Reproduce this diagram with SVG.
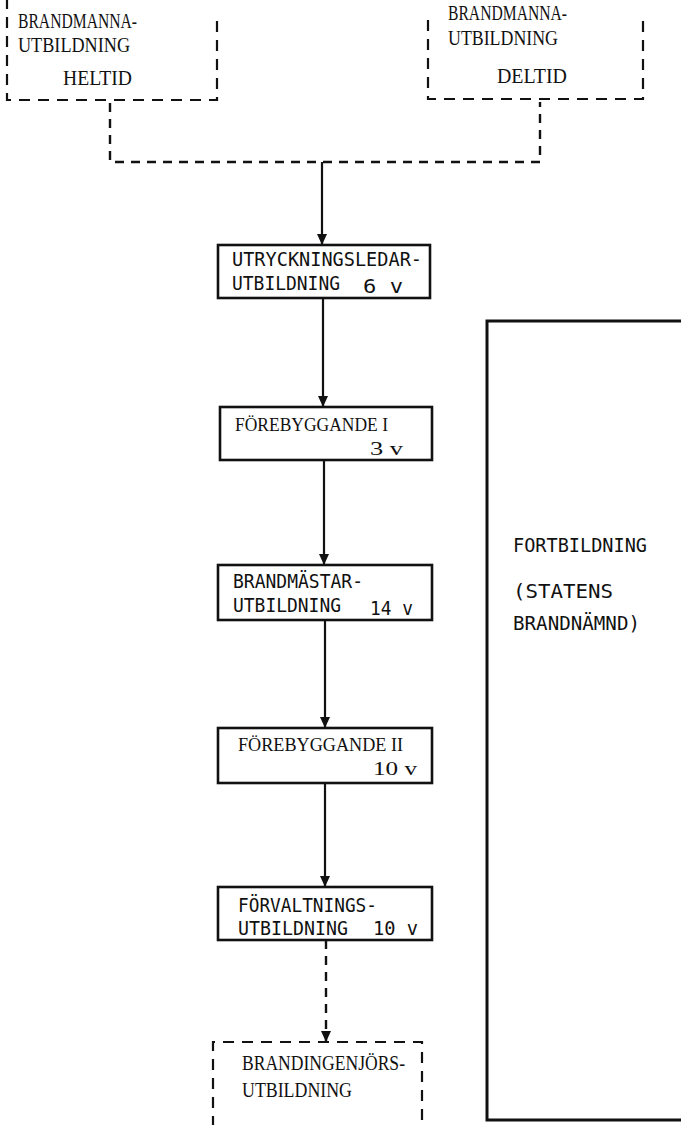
<svg xmlns="http://www.w3.org/2000/svg" width="681" height="1125" viewBox="0 0 681 1125">
<style>
.box{fill:#fff;stroke:#111;stroke-width:2.6}
.dbox{fill:none;stroke:#111;stroke-width:2.2;stroke-dasharray:11 8}
.conn{fill:none;stroke:#111;stroke-width:2.2}
.dconn{fill:none;stroke:#111;stroke-width:2.4;stroke-dasharray:9 7}
.serif{font-family:"Liberation Serif","Times New Roman",serif;font-size:21px;fill:#111}
.serif2{font-family:"Liberation Serif","Times New Roman",serif;font-size:19px;fill:#111}
.mono{font-family:"DejaVu Sans Mono","Liberation Mono",monospace;font-size:19px;fill:#111}
</style>
<defs>
<marker id="ah" markerWidth="11" markerHeight="10" refX="11" refY="5" orient="auto" markerUnits="userSpaceOnUse" viewBox="0 0 11 10">
<path d="M0,0 L11,5 L0,10 Z" fill="#111"/>
</marker>
</defs>
<rect width="681" height="1125" fill="#fff"/>
<g id="connectors">
<path class="dconn" d="M110,103 V162 H540 V102"/>
<path class="conn" d="M322,162 V245" marker-end="url(#ah)"/>
<path class="conn" d="M323,298 V407" marker-end="url(#ah)"/>
<path class="conn" d="M324,460 V565" marker-end="url(#ah)"/>
<path class="conn" d="M325,620 V728" marker-end="url(#ah)"/>
<path class="conn" d="M325,783 V887" marker-end="url(#ah)"/>
<path class="dconn" d="M326,940 V1042" marker-end="url(#ah)"/>
</g>
<g id="heltid">
<path class="dbox" d="M7,-2 V100 H217 V14"/>
<text class="serif" x="18" y="28" textLength="119" lengthAdjust="spacingAndGlyphs">BRANDMANNA-</text>
<text class="serif" x="18" y="52" textLength="112" lengthAdjust="spacingAndGlyphs">UTBILDNING</text>
<text class="serif" x="63" y="85" textLength="69" lengthAdjust="spacingAndGlyphs">HELTID</text>
</g>
<g id="deltid">
<path class="dbox" d="M428,20 V99 H643 V18"/>
<text class="serif" x="448" y="20" textLength="119" lengthAdjust="spacingAndGlyphs">BRANDMANNA-</text>
<text class="serif" x="448" y="45" textLength="110" lengthAdjust="spacingAndGlyphs">UTBILDNING</text>
<text class="serif" x="497" y="83" textLength="70" lengthAdjust="spacingAndGlyphs">DELTID</text>
</g>
<g id="utryckning">
<rect class="box" x="218" y="245" width="212" height="53"/>
<text class="mono" x="232" y="266" textLength="190" lengthAdjust="spacingAndGlyphs">UTRYCKNINGSLEDAR-</text>
<text class="mono" x="232" y="290" textLength="108" lengthAdjust="spacingAndGlyphs">UTBILDNING</text>
<text class="mono" x="363" y="293" textLength="40" lengthAdjust="spacingAndGlyphs">6 v</text>
</g>
<g id="forebyggande1">
<rect class="box" x="220" y="407" width="212" height="53"/>
<text class="serif2" x="235" y="431" textLength="153" lengthAdjust="spacingAndGlyphs">FÖREBYGGANDE I</text>
<text class="serif2" x="370" y="455" textLength="33" lengthAdjust="spacingAndGlyphs">3 v</text>
</g>
<g id="brandmastar">
<rect class="box" x="218" y="565" width="214" height="55"/>
<text class="mono" x="233" y="588" textLength="130" lengthAdjust="spacingAndGlyphs">BRANDMÄSTAR-</text>
<text class="mono" x="233" y="612" textLength="108" lengthAdjust="spacingAndGlyphs">UTBILDNING</text>
<text class="mono" x="370" y="615" textLength="43" lengthAdjust="spacingAndGlyphs">14 v</text>
</g>
<g id="forebyggande2">
<rect class="box" x="218" y="728" width="214" height="55"/>
<text class="serif2" x="238" y="751" textLength="165" lengthAdjust="spacingAndGlyphs">FÖREBYGGANDE II</text>
<text class="serif2" x="373" y="775" textLength="44" lengthAdjust="spacingAndGlyphs">10 v</text>
</g>
<g id="forvaltning">
<rect class="box" x="218" y="887" width="214" height="53"/>
<text class="mono" x="238" y="912" textLength="139" lengthAdjust="spacingAndGlyphs">FÖRVALTNINGS-</text>
<text class="mono" x="238" y="935" textLength="110" lengthAdjust="spacingAndGlyphs">UTBILDNING</text>
<text class="mono" x="373" y="935" textLength="45" lengthAdjust="spacingAndGlyphs">10 v</text>
</g>
<g id="brandingenjor">
<path class="dbox" d="M213,1127 V1042 H422 V1127"/>
<text class="serif" x="242" y="1070" textLength="163" lengthAdjust="spacingAndGlyphs">BRANDINGENJÖRS-</text>
<text class="serif" x="242" y="1097" textLength="110" lengthAdjust="spacingAndGlyphs">UTBILDNING</text>
</g>
<g id="fortbildning">
<path d="M683,321 H487 V1120 H683" fill="none" stroke="#111" stroke-width="3"/>
<text class="mono" x="513" y="552" textLength="134" lengthAdjust="spacingAndGlyphs">FORTBILDNING</text>
<text class="mono" x="513" y="598" textLength="100" lengthAdjust="spacingAndGlyphs">(STATENS</text>
<text class="mono" x="513" y="630" textLength="127" lengthAdjust="spacingAndGlyphs">BRANDNÄMND)</text>
</g>
</svg>
